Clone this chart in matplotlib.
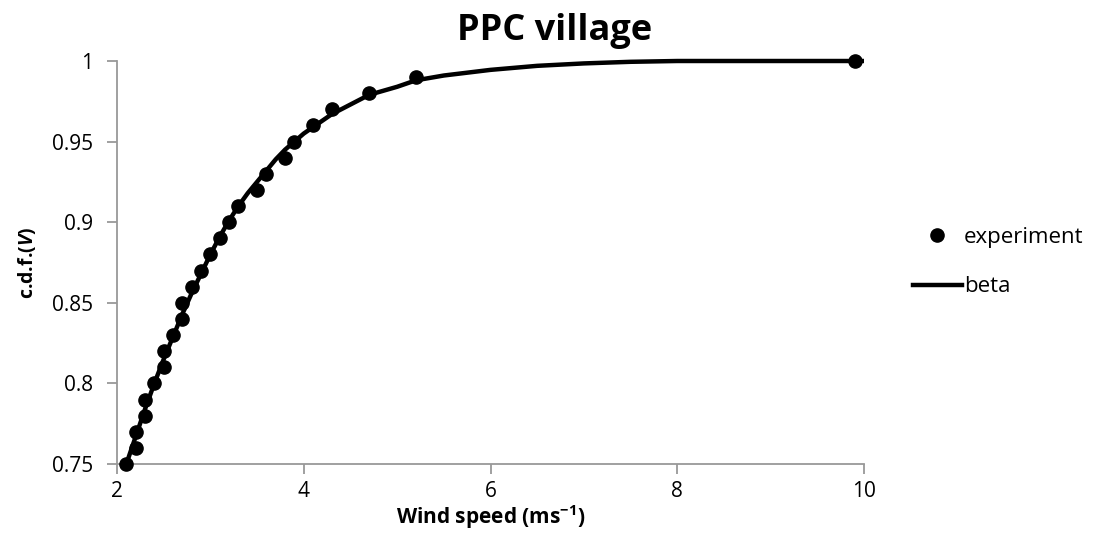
import matplotlib.pyplot as plt
from matplotlib.lines import Line2D

# experimental c.d.f. points
exp_speed = [2.1, 2.2, 2.2, 2.3, 2.3, 2.4, 2.5, 2.5, 2.6, 2.7, 2.7, 2.8, 2.9,
             3.0, 3.1, 3.2, 3.3, 3.5, 3.6, 3.8, 3.9, 4.1, 4.3, 4.7, 5.2, 9.9]
exp_cdf = [0.75, 0.76, 0.77, 0.78, 0.79, 0.80, 0.81, 0.82, 0.83, 0.84, 0.85,
           0.86, 0.87, 0.88, 0.89, 0.90, 0.91, 0.92, 0.93, 0.94, 0.95, 0.96,
           0.97, 0.98, 0.99, 1.00]

# beta fit
beta_speed = [2.1, 2.2, 2.3, 2.4, 2.5, 2.6, 2.7, 2.8, 2.9, 3.0, 3.1, 3.2, 3.3,
              3.4, 3.5, 3.6, 3.7, 3.8, 3.9, 4.0, 4.1, 4.3, 4.5, 4.7, 5.0, 5.2,
              5.5, 6.0, 6.5, 7.0, 7.5, 8.0, 9.0, 10.0]
beta_cdf = [0.75, 0.767, 0.784, 0.800, 0.815, 0.829, 0.843, 0.856, 0.868,
            0.880, 0.891, 0.901, 0.910, 0.918, 0.925, 0.932, 0.939, 0.945,
            0.950, 0.955, 0.959, 0.967, 0.973, 0.979, 0.984, 0.988, 0.991,
            0.9945, 0.997, 0.9985, 0.9995, 1.0, 1.0, 1.0]

plt.rcParams['font.family'] = ['Open Sans', 'DejaVu Sans']
plt.rcParams['mathtext.fontset'] = 'custom'
plt.rcParams['mathtext.rm'] = 'Open Sans'
plt.rcParams['mathtext.bf'] = 'Open Sans:bold'
plt.rcParams['mathtext.it'] = 'Open Sans:italic'
plt.rcParams['mathtext.bfit'] = 'Open Sans:bold:italic'

fig = plt.figure(figsize=(10.93, 5.47), dpi=100)
ax = fig.add_axes([117 / 1093, 1 - 464 / 547, (864 - 117) / 1093, (464 - 61) / 547])

ax.plot(beta_speed, beta_cdf, color='black', lw=3.2, solid_capstyle='butt',
        solid_joinstyle='round', zorder=2, clip_on=False)
ax.plot(exp_speed, exp_cdf, 'o', color='black', markersize=9.5, zorder=3,
        clip_on=False)

ax.set_xlim(2, 10)
ax.set_ylim(0.75, 1.0)
ax.set_xticks([2, 4, 6, 8, 10])
ax.set_yticks([0.75, 0.8, 0.85, 0.9, 0.95, 1.0])
ax.set_yticklabels(['0.75', '0.8', '0.85', '0.9', '0.95', '1'])
for s in ['top', 'right']:
    ax.spines[s].set_visible(False)
for s in ['left', 'bottom']:
    ax.spines[s].set_color('#999999')
    ax.spines[s].set_linewidth(1.3)
    ax.spines[s].set_zorder(1)
ax.tick_params(axis='both', direction='out', length=7, width=1.3, color='#999999',
               labelsize=15)
ax.tick_params(axis='y', pad=10)
ax.tick_params(axis='x', pad=5)

fig.text(555 / 1093, 1 - 31 / 547, 'PPC village', ha='center', va='center',
         fontsize=26, fontweight='bold')
ax.set_xlabel('Wind speed (ms$^{\\mathbf{-1}}$)', fontsize=15, fontweight='bold',
              labelpad=1)
ax.set_ylabel('c.d.f.($\\mathbfit{V}$)', fontsize=14, fontweight='bold', labelpad=10)

handles = [Line2D([], [], marker='o', color='black', ls='none', markersize=9.5),
           Line2D([], [], color='black', lw=3.2)]
fig.legend(handles, ['experiment', 'beta'], loc='center left',
           bbox_to_anchor=(893 / 1093, 1 - 262 / 547), frameon=False, fontsize=16,
           handlelength=2.2, handletextpad=0.1, labelspacing=1.3)

fig.savefig('out.png', dpi=100)
